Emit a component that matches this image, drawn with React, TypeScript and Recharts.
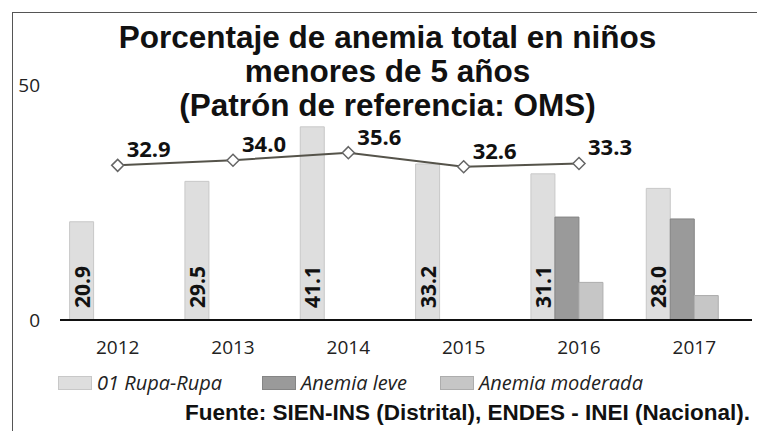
import { ComposedChart, Bar, Line, XAxis, YAxis, Legend, LabelList } from "recharts";

const years = ["2012", "2013", "2014", "2015", "2016", "2017"];
const rupaRupa = [20.9, 29.5, 41.1, 33.2, 31.1, 28.0];
const anemiaLeve = [null, null, null, null, 21.9, 21.5];
const anemiaModerada = [null, null, null, null, 8.0, 5.2];
const anemiaTotal = [32.9, 34.0, 35.6, 32.6, 33.3, null];
const yTicks = [0, 50];

const legendItems = [
  { label: "01 Rupa-Rupa", color: "#dedede", border: "#c8c8c8" },
  { label: "Anemia leve", color: "#9a9a9a", border: "#858585" },
  { label: "Anemia moderada", color: "#c6c6c6", border: "#adadad" },
];

const titleLines = ["Porcentaje de anemia total en niños", "menores de 5 años", "(Patrón de referencia: OMS)"];

const data = years.map((year, i) => ({
  year,
  rupa: rupaRupa[i],
  leve: anemiaLeve[i],
  moderada: anemiaModerada[i],
  blank: null,
  total: anemiaTotal[i],
}));

const labelFont = "'Open Sans', sans-serif";
const titleFont = "'Liberation Sans', Arial, sans-serif";
// left edge of each legend swatch (Excel spreads them unevenly)
const legendLeft = [58, 262, 440];

function Diamond(props: any) {
  const { cx, cy } = props;
  if (cx == null || cy == null || props.value == null) return null;
  const r = 6;
  return (
    <polygon
      points={`${cx},${cy - r} ${cx + r},${cy} ${cx},${cy + r} ${cx - r},${cy}`}
      fill="#fff"
      stroke="#666"
      strokeWidth={1.5}
    />
  );
}

function BarValue(props: any) {
  const { x, y, width, height, value } = props;
  if (value == null) return null;
  const cx = x + width / 2;
  const by = y + height - 12;
  return (
    <text
      x={cx}
      y={by}
      transform={`rotate(-90 ${cx} ${by})`}
      textAnchor="start"
      dominantBaseline="central"
      fontFamily={labelFont}
      fontWeight={700}
      fontSize={21}
      fill="#111"
    >
      {Number(value).toFixed(1)}
    </text>
  );
}

function LineValue(props: any) {
  const { x, y, value } = props;
  if (value == null) return null;
  return (
    <text x={x + 9} y={y - 8} textAnchor="start" fontFamily={labelFont} fontWeight={700} fontSize={22} fill="#111">
      {Number(value).toFixed(1)}
    </text>
  );
}

function LegendContent() {
  return (
    <div style={{ position: "relative", height: 24, fontFamily: labelFont, fontStyle: "italic", fontSize: 20, color: "#222" }}>
      {legendItems.map((item, i) => (
        <div
          key={item.label}
          style={{ position: "absolute", left: legendLeft[i], top: 0, display: "flex", alignItems: "center", whiteSpace: "nowrap" }}
        >
          <span
            style={{
              display: "inline-block",
              width: 32,
              height: 12,
              background: item.color,
              border: `1px solid ${item.border}`,
              marginRight: 5,
            }}
          />
          <span>{item.label}</span>
        </div>
      ))}
    </div>
  );
}

export default function App() {
  return (
    <div style={{ position: "relative", width: 765, height: 439, margin: -8, background: "#fff", overflow: "hidden" }}>
      <div
        style={{
          position: "absolute",
          left: 12,
          top: 12,
          width: 800,
          height: 500,
          borderTop: "1.5px solid #555",
          borderLeft: "1.5px solid #555",
        }}
      />
      {titleLines.map((line, i) => (
        <div
          key={line}
          style={{
            position: "absolute",
            left: 0,
            top: 22 + i * 34,
            width: 775,
            textAlign: "center",
            fontFamily: titleFont,
            fontWeight: 700,
            fontSize: 31.5,
            lineHeight: "31px",
            color: "#111",
            whiteSpace: "nowrap",
          }}
        >
          {line}
        </div>
      ))}
      <ComposedChart
        width={765}
        height={439}
        data={data}
        margin={{ top: 85, right: 13, bottom: 79, left: 0 }}
        barCategoryGap={9.6}
        barGap={0}
        style={{ position: "absolute", left: 0, top: 0 }}
      >
        <XAxis
          dataKey="year"
          axisLine={{ stroke: "#111", strokeWidth: 2 }}
          tickLine={false}
          tickMargin={15}
          height={40}
          tick={{ fontFamily: labelFont, fontSize: 19, fill: "#222" }}
        />
        <YAxis
          domain={[0, 50]}
          ticks={yTicks}
          width={60}
          axisLine={false}
          tickLine={false}
          tickSize={0}
          tickMargin={20}
          tick={{ fontFamily: labelFont, fontSize: 19, fill: "#222" }}
        />
        <Legend
          verticalAlign="middle"
          align="center"
          content={<LegendContent />}
          wrapperStyle={{ top: 369, left: 0, width: 765 }}
        />
        <Bar dataKey="rupa" fill="#dedede" stroke="#c8c8c8" isAnimationActive={false} legendType="none">
          <LabelList dataKey="rupa" content={<BarValue />} />
        </Bar>
        <Bar dataKey="leve" fill="#9a9a9a" stroke="#858585" isAnimationActive={false} legendType="none" />
        <Bar dataKey="moderada" fill="#c6c6c6" stroke="#adadad" isAnimationActive={false} legendType="none" />
        <Bar dataKey="blank" fill="none" isAnimationActive={false} legendType="none" />
        <Line
          dataKey="total"
          stroke="#55534a"
          strokeWidth={2}
          dot={<Diamond />}
          activeDot={false}
          isAnimationActive={false}
          legendType="none"
          connectNulls={false}
        >
          <LabelList dataKey="total" content={<LineValue />} />
        </Line>
      </ComposedChart>
      <div
        style={{
          position: "absolute",
          right: 15,
          top: 400,
          fontFamily: titleFont,
          fontWeight: 700,
          fontSize: 22.5,
          color: "#111",
          whiteSpace: "nowrap",
        }}
      >
        Fuente: SIEN-INS (Distrital), ENDES - INEI (Nacional).
      </div>
    </div>
  );
}
